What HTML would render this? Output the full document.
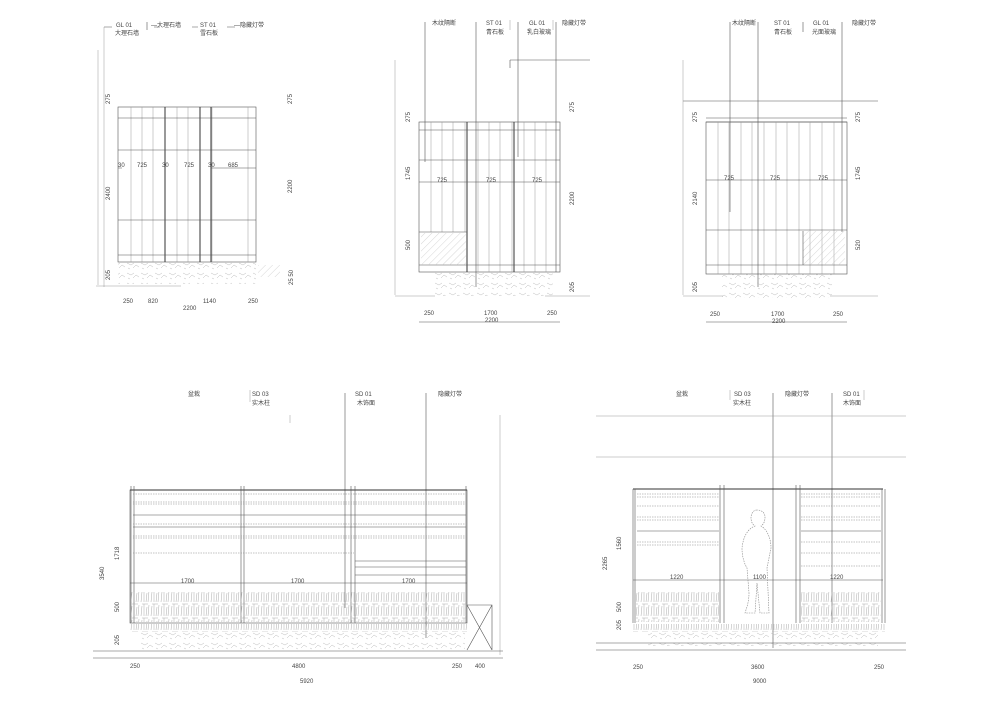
<!DOCTYPE html>
<html><head><meta charset="utf-8"><style>
body{margin:0;background:#fff}
svg{display:block}
text{font-family:"Liberation Sans","Noto Sans CJK SC",sans-serif;font-size:6px;fill:#444}
.l{stroke:#555;stroke-width:.6;fill:none}
.t{stroke:#999;stroke-width:.5;fill:none}
.k{stroke:#333;stroke-width:1;fill:none}
.d{stroke:#888;stroke-width:.6;stroke-dasharray:1.5 1;fill:none}
</style></head><body>
<svg width="1000" height="707" viewBox="0 0 1000 707" xmlns="http://www.w3.org/2000/svg">
<defs>
<pattern id="pl" width="10" height="14" patternUnits="userSpaceOnUse"><path d="M1 14 L2 4 M4 14 L4 2 M6 14 L7 5 M8 14 L9 3 M2 2 h6" stroke="#aaa" stroke-width=".5" fill="none"/></pattern>
<pattern id="st" width="14" height="10" patternUnits="userSpaceOnUse"><path d="M1 3 l4 2 l3 -2 M7 8 l3 -3 l3 2 M2 8 l2 1" stroke="#bbb" stroke-width=".5" fill="none"/></pattern>
<pattern id="ht" width="5" height="5" patternUnits="userSpaceOnUse" patternTransform="rotate(45)"><path d="M0 0 v5" stroke="#bbb" stroke-width=".6"/></pattern>
</defs>

<!-- ===== Panel 1 ===== -->
<g>
<path class="l" d="M104 27 h8 M147 22 v8 M154 27 h6 M192 27 h6 M227 27 h8"/>
<text x="116" y="27">GL 01</text><text x="115" y="35">大理石墙</text>
<text x="151" y="27">—大理石墙</text>
<text x="200" y="27">ST 01</text><text x="200" y="35">雪石板</text>
<text x="234" y="27">—隐藏灯带</text>
<path class="t" d="M98 50 v235 M104 27 v260"/>
<rect x="118" y="107" width="138" height="155" class="l"/>
<path class="t" d="M131 107v155 M142 107v155 M153 107v155 M177 107v155 M188 107v155 M212 107v155 M248 107v155"/>
<path class="k" d="M165 107v155 M200 107v155 M211 107v155"/>
<path class="l" d="M118 118h138 M118 150h138 M118 220h138 M118 255h138 M211 168h45 M118 168h4"/>
<text x="137" y="167">725</text><text x="184" y="167">725</text><text x="228" y="167">685</text>
<text x="118" y="167">30</text><text x="162" y="167">30</text><text x="208" y="167">30</text>
<rect x="118" y="262" width="138" height="22" fill="url(#st)"/>
<rect x="258" y="265" width="22" height="12" fill="url(#ht)"/>
<path class="t" d="M96 286 h85"/>
<text x="110" y="104" transform="rotate(-90 110 104)">275</text>
<text x="110" y="200" transform="rotate(-90 110 200)">2400</text>
<text x="110" y="280" transform="rotate(-90 110 280)">205</text>
<text x="292" y="104" transform="rotate(-90 292 104)">275</text>
<text x="292" y="193" transform="rotate(-90 292 193)">2200</text>
<text x="293" y="285" transform="rotate(-90 293 285)">25 50</text>
<text x="123" y="303">250</text><text x="148" y="303">820</text><text x="203" y="303">1140</text><text x="248" y="303">250</text>
<text x="183" y="310">2200</text>
</g>

<!-- ===== Panel 2 ===== -->
<g>
<text x="432" y="25">木纹隔断</text><text x="486" y="25">ST 01</text><text x="486" y="34">青石板</text>
<text x="529" y="25">GL 01</text><text x="527" y="34">乳白玻璃</text><text x="562" y="25">隐藏灯带</text>
<path class="l" d="M425 22 v140 M476 22 v265 M518 22 v135 M556 22 v250 M510 60 h80 M510 60 v8"/>
<path class="t" d="M395 60 v235 M510 20 v10 M553 20 v10"/>
<rect x="419" y="122" width="141" height="150" class="l"/>
<path class="t" d="M431 122v110 M442 122v110 M453 122v110 M465 122v110 M478 122v150 M489 122v150 M500 122v150 M512 122v150 M524 122v150 M535 122v150 M546 122v150"/>
<path class="k" d="M467 122v150 M514 122v150"/>
<path class="l" d="M419 130h141 M419 160h141 M419 182h141 M419 232h48 M419 265h141 M514 265 h46"/>
<rect x="421" y="233" width="45" height="32" fill="url(#ht)"/>
<text x="437" y="182">725</text><text x="486" y="182">725</text><text x="532" y="182">725</text>
<rect x="433" y="272" width="120" height="24" fill="url(#st)"/>
<path class="t" d="M395 296 h40 M545 296 h45"/>
<text x="410" y="122" transform="rotate(-90 410 122)">275</text>
<text x="410" y="180" transform="rotate(-90 410 180)">1745</text>
<text x="410" y="250" transform="rotate(-90 410 250)">500</text>
<text x="574" y="112" transform="rotate(-90 574 112)">275</text>
<text x="574" y="205" transform="rotate(-90 574 205)">2200</text>
<text x="574" y="292" transform="rotate(-90 574 292)">205</text>
<path class="l" d="M419 322 h141"/>
<text x="424" y="315">250</text><text x="484" y="315">1700</text><text x="547" y="315">250</text><text x="485" y="322">2200</text>
</g>

<!-- ===== Panel 3 ===== -->
<g>
<text x="732" y="25">木纹隔断</text><text x="774" y="25">ST 01</text><text x="774" y="34">青石板</text>
<text x="813" y="25">GL 01</text><text x="812" y="34">光面玻璃</text><text x="852" y="25">隐藏灯带</text>
<path class="l" d="M730 22 v190 M758 22 v265 M803 22 v10 M842 22 v210 M683 101 h195 M706 118 h141 M706 122 h141"/>
<path class="t" d="M683 60 v235"/>
<rect x="706" y="122" width="141" height="152" class="l"/>
<path class="t" d="M718 122v152 M729 122v152 M741 122v152 M752 122v152 M764 122v152 M776 122v152 M787 122v152 M799 122v152 M810 122v152 M822 122v152 M834 122v152"/>
<path class="l" d="M706 180h141 M706 230h141 M706 265h141"/>
<rect x="803" y="231" width="42" height="34" fill="url(#ht)"/>
<path class="l" d="M803 231 v34"/>
<text x="724" y="180">725</text><text x="770" y="180">725</text><text x="818" y="180">725</text>
<rect x="722" y="274" width="110" height="24" fill="url(#st)"/>
<path class="t" d="M683 296 h40 M830 296 h48"/>
<text x="697" y="122" transform="rotate(-90 697 122)">275</text>
<text x="697" y="205" transform="rotate(-90 697 205)">2140</text>
<text x="697" y="292" transform="rotate(-90 697 292)">205</text>
<text x="860" y="122" transform="rotate(-90 860 122)">275</text>
<text x="860" y="180" transform="rotate(-90 860 180)">1745</text>
<text x="860" y="250" transform="rotate(-90 860 250)">520</text>
<path class="l" d="M706 322 h141"/>
<text x="710" y="316">250</text><text x="771" y="316">1700</text><text x="833" y="316">250</text><text x="772" y="323">2200</text>
</g>

<!-- ===== Panel 4 ===== -->
<g>
<text x="188" y="396">盆栽</text><text x="252" y="396">SD 03</text><text x="252" y="405">实木柱</text>
<text x="355" y="396">SD 01</text><text x="357" y="405">木饰面</text><text x="438" y="396">隐藏灯带</text>
<path class="l" d="M345 393 v215 M426 393 v245"/>
<path class="t" d="M250 390 v12 M500 415 v240 M290 415 v8"/>
<rect x="130" y="490" width="337" height="133" class="l"/>
<path class="k" d="M130 490 h337" stroke-width="1.4"/>
<path class="l" d="M131 486 v137 M134 486 v137 M241 486 v137 M244 486 v137 M351 486 v137 M355 486 v137 M466 486 v137"/>
<path class="d" d="M133 494h333 M133 502h333 M133 504h333 M133 524h333 M133 536h333 M133 538h333 M133 553h221"/>
<path class="l" d="M133 515h333 M133 527h333 M355 561h111 M355 567h111 M355 575h111"/>
<path class="l" d="M130 583 h337"/>
<text x="181" y="583">1700</text><text x="291" y="583">1700</text><text x="402" y="583">1700</text>
<rect x="131" y="592" width="335" height="30" fill="url(#pl)"/>
<rect x="130" y="624" width="337" height="8" fill="url(#pl)"/>
<rect x="140" y="632" width="325" height="18" fill="url(#st)"/>
<path class="l" d="M467 605 h25 v45 M467 605 l25 45 M492 605 l-25 45"/>
<path class="l" d="M93 651 h410 M93 658 h410"/>
<text x="119" y="560" transform="rotate(-90 119 560)">1718</text>
<text x="104" y="580" transform="rotate(-90 104 580)">3540</text>
<text x="119" y="612" transform="rotate(-90 119 612)">500</text>
<text x="119" y="645" transform="rotate(-90 119 645)">205</text>
<text x="130" y="668">250</text><text x="292" y="668">4800</text><text x="452" y="668">250</text><text x="475" y="668">400</text>
<text x="300" y="683">5920</text>
</g>

<!-- ===== Panel 5 ===== -->
<g>
<text x="676" y="396">盆栽</text><text x="734" y="396">SD 03</text><text x="733" y="405">实木柱</text>
<text x="785" y="396">隐藏灯带</text><text x="843" y="396">SD 01</text><text x="843" y="405">木饰面</text>
<path class="l" d="M773 393 v255 M832 393 v230"/>
<path class="t" d="M730 390 v10 M864 390 v10 M596 416 h310 M596 457 h310"/>
<path class="k" d="M633 489 h170" stroke-width="1.2"/>
<path class="k" d="M797 489 h86" stroke-width="1.2"/>
<path class="l" d="M633 489 v134 M635 489 v134 M720 485 v138 M724 485 v138 M796 485 v138 M800 485 v138 M882 489 v134 M885 489 v134"/>
<path class="d" d="M637 494h82 M637 497h82 M637 506h82 M637 517h82 M637 520h82 M637 542h82 M637 545h82 M801 494h80 M801 497h80 M801 506h80 M801 517h80 M801 520h80 M801 542h80 M801 553h80 M801 566h80"/>
<path class="l" d="M637 531h82 M801 531h80 M633 580 h250"/>
<text x="670" y="579">1220</text><text x="753" y="579">1100</text><text x="830" y="579">1220</text>
<path class="d" d="M757 510 c-4 0 -6 4 -6 8 c0 4 2 7 4 8 c-8 3 -12 12 -13 22 c0 8 2 15 5 20 l2 25 c0 8 -2 14 -4 20 h10 l2 -30 l3 30 h9 l-2 -45 l4 -20 c0 -8 -3 -18 -10 -22 c3 -2 4 -5 4 -9 c0 -4 -3 -7 -8 -7z"/>
<rect x="636" y="592" width="83" height="30" fill="url(#pl)"/>
<rect x="801" y="592" width="80" height="30" fill="url(#pl)"/>
<rect x="633" y="624" width="252" height="8" fill="url(#pl)"/>
<rect x="648" y="632" width="230" height="14" fill="url(#st)"/>
<path class="l" d="M596 643 h310 M596 650 h310"/>
<text x="621" y="550" transform="rotate(-90 621 550)">1560</text>
<text x="607" y="570" transform="rotate(-90 607 570)">2265</text>
<text x="621" y="612" transform="rotate(-90 621 612)">500</text>
<text x="621" y="630" transform="rotate(-90 621 630)">205</text>
<text x="633" y="669">250</text><text x="751" y="669">3600</text><text x="874" y="669">250</text>
<text x="753" y="683">9000</text>
</g>
</svg>
</body></html>
